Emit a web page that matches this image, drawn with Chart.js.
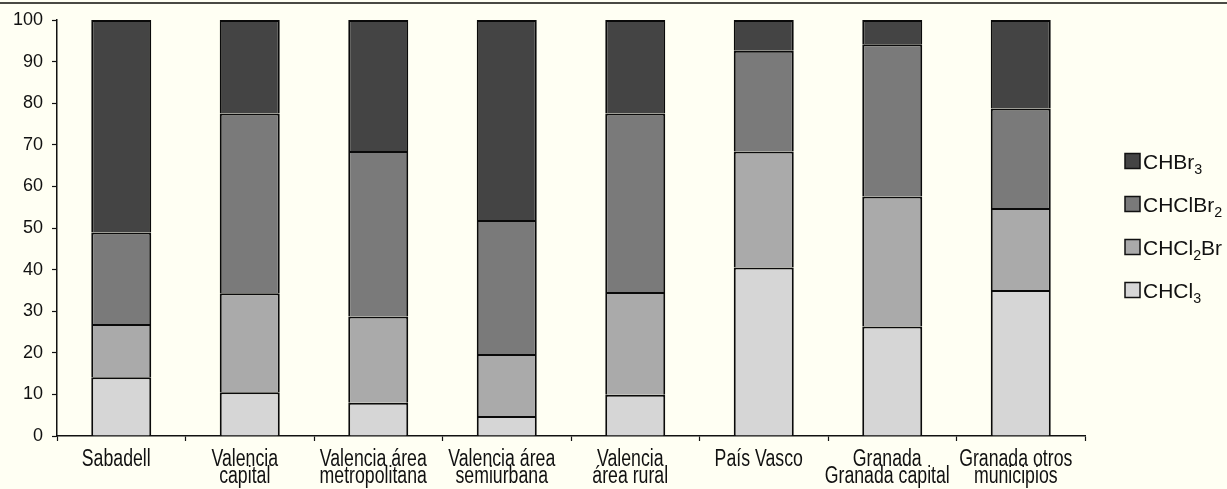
<!DOCTYPE html>
<html>
<head>
<meta charset="utf-8">
<title>Trihalometanos por zona</title>
<script src="https://cdn.jsdelivr.net/npm/chart.js@4.4.1/dist/chart.umd.min.js"></script>
<style>
  html, body { margin: 0; padding: 0; background: #fffff3; }
  #wrap { width: 1227px; height: 489px; position: relative; }
</style>
</head>
<body>
<div id="wrap"><canvas id="chart"></canvas></div>
<script>
// Zonas (etiquetas de dos líneas en el eje X)
const categories = [
  ['Sabadell'],
  ['Valencia', 'capital'],
  ['Valencia área', 'metropolitana'],
  ['Valencia área', 'semiurbana'],
  ['Valencia', 'área rural'],
  ['País Vasco'],
  ['Granada', 'Granada capital'],
  ['Granada otros', 'municipios']
];

// Porcentaje de cada trihalometano sobre el total (%)
const chcl3   = [14.1, 10.5,  8.0,  4.8,  9.9, 40.5, 26.3, 35.1];
const chcl2br = [12.8, 23.8, 20.7, 14.9, 24.7, 27.9, 31.3, 19.7];
const chclbr2 = [22.0, 43.2, 39.8, 32.2, 42.9, 24.2, 36.6, 23.9];
const chbr3   = [51.1, 22.5, 31.5, 48.1, 22.5,  7.4,  5.8, 21.3];

const yTicks = [0, 10, 20, 30, 40, 50, 60, 70, 80, 90, 100];

const seriesNames  = ['CHCl3', 'CHCl2Br', 'CHClBr2', 'CHBr3'];
const seriesData   = [chcl3, chcl2br, chclbr2, chbr3];
const seriesColors = ['#d6d6d6', '#aaaaaa', '#7a7a7a', '#444444'];

const BG = '#fffff3';
const SANS = '"Liberation Sans", Arial, Helvetica, sans-serif';

// Fondo crema y filete superior
const frame = {
  id: 'frame',
  beforeDraw(chart) {
    const { ctx, width } = chart;
    ctx.save();
    ctx.fillStyle = BG;
    ctx.fillRect(0, 0, width, chart.height);
    ctx.fillStyle = '#4a4a44';
    ctx.fillRect(0, 2, width, 2);
    ctx.restore();
  }
};

// Etiquetas de categoría en letra estrecha, centradas en cada marca del eje X
const narrowLabels = {
  id: 'narrowLabels',
  afterDraw(chart, args, opts) {
    const { ctx } = chart;
    const xs = chart.scales.x;
    ctx.save();
    ctx.fillStyle = '#111';
    ctx.textAlign = 'center';
    ctx.textBaseline = 'alphabetic';
    ctx.font = opts.size + 'px ' + SANS;
    chart.data.labels.forEach((lab, i) => {
      const cx = xs.getPixelForTick(i) + opts.dx;
      const lines = Array.isArray(lab) ? lab : [lab];
      lines.forEach((line, k) => {
        ctx.save();
        ctx.translate(cx, xs.top + opts.first + k * opts.lineGap);
        ctx.scale(opts.stretch, 1);
        ctx.fillText(line, 0, 0);
        ctx.restore();
      });
    });
    ctx.restore();
  }
};

// Leyenda lateral con subíndices en las fórmulas
const sideLegend = {
  id: 'sideLegend',
  afterDraw(chart, args, opts) {
    const { ctx } = chart;
    const sets = chart.data.datasets.slice().reverse();
    ctx.save();
    sets.forEach((ds, i) => {
      const cy = opts.top + i * opts.spacing;
      const bx = opts.left, bs = opts.box;
      ctx.fillStyle = ds.backgroundColor;
      ctx.fillRect(bx, cy - bs / 2, bs, bs);
      ctx.strokeStyle = '#111';
      ctx.lineWidth = 1.5;
      ctx.strokeRect(bx, cy - bs / 2, bs, bs);

      let x = bx + bs + opts.gap;
      const base = cy + opts.font * 0.36;
      ctx.fillStyle = '#111';
      ctx.textBaseline = 'alphabetic';
      ctx.textAlign = 'left';
      const runs = ds.label.match(/\d+|\D+/g);
      runs.forEach(r => {
        if (/\d/.test(r)) {
          ctx.font = (opts.font * 0.68) + 'px ' + SANS;
          ctx.fillText(r, x, base + opts.font * 0.28);
        } else {
          ctx.font = opts.font + 'px ' + SANS;
          ctx.fillText(r, x, base);
        }
        x += ctx.measureText(r).width;
      });
    });
    ctx.restore();
  }
};

new Chart(document.getElementById('chart'), {
  type: 'bar',
  data: {
    labels: categories,
    datasets: seriesNames.map((name, i) => ({
      label: name,
      data: seriesData[i],
      backgroundColor: seriesColors[i],
      borderColor: '#0a0a0a',
      borderWidth: 2,
      borderSkipped: 'start',
      barPercentage: 0.467,
      categoryPercentage: 1.0
    }))
  },
  options: {
    responsive: true,
    maintainAspectRatio: false,
    animation: false,
    devicePixelRatio: 1,
    layout: { padding: { top: 20, right: 142, left: 0, bottom: 0 } },
    plugins: {
      legend: { display: false },
      tooltip: { enabled: false },
      sideLegend: { left: 1125, top: 161, spacing: 43, box: 15, gap: 3, font: 21 },
      narrowLabels: { size: 23, stretch: 0.77, first: 30, lineGap: 17, dx: -5 }
    },
    scales: {
      x: {
        stacked: true,
        grid: {
          display: true,
          offset: true,
          drawOnChartArea: false,
          drawTicks: true,
          tickLength: 5,
          tickColor: '#111',
          tickWidth: 1.2
        },
        border: { display: true, color: '#111', width: 1.5 },
        ticks: { display: false, autoSkip: false, maxRotation: 0 },
        afterFit(scale) { scale.height = 53; }
      },
      y: {
        stacked: true,
        min: 0,
        max: 100,
        afterBuildTicks(scale) { scale.ticks = yTicks.map(v => ({ value: v })); },
        grid: {
          display: true,
          drawOnChartArea: false,
          drawTicks: true,
          tickLength: 5,
          tickColor: '#111',
          tickWidth: 1.2
        },
        border: { display: true, color: '#111', width: 1.5 },
        ticks: {
          color: '#111',
          padding: 9,
          font: { family: SANS, size: 18 }
        },
        afterFit(scale) { scale.width = 57; }
      }
    }
  },
  plugins: [frame, narrowLabels, sideLegend]
});
</script>
</body>
</html>
